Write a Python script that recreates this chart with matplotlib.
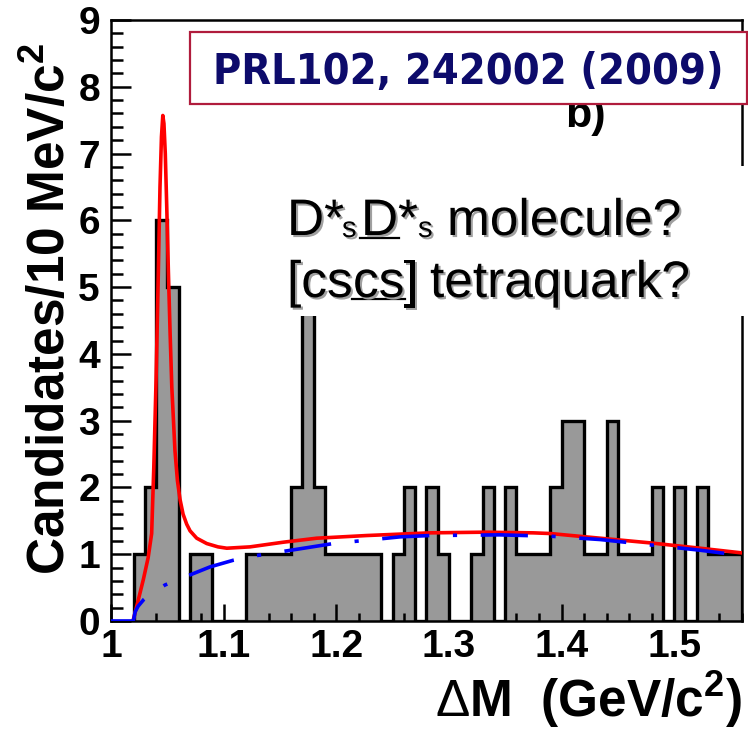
import matplotlib
matplotlib.use("Agg")
import matplotlib.pyplot as plt
from matplotlib.patches import Rectangle
from matplotlib.lines import Line2D
from matplotlib.ticker import MultipleLocator
import matplotlib.patheffects as pe
import numpy as np

plt.rcParams['lines.scale_dashes'] = False
plt.rcParams['font.family'] = ['Liberation Sans', 'DejaVu Sans']
plt.rcParams['mathtext.fontset'] = 'custom'
plt.rcParams['mathtext.rm'] = 'Liberation Sans'
plt.rcParams['mathtext.bf'] = 'Liberation Sans:bold'
plt.rcParams['mathtext.it'] = 'Liberation Sans:italic'

W, H = 748, 731

# ---------------- data ----------------
bin_edges = np.round(np.linspace(1.00, 1.56, 57), 2)
counts = [0, 0, 1, 2, 6, 5, 0, 1, 1, 0,
          0, 0, 1, 1, 1, 1, 2, 5, 2, 1,
          1, 1, 1, 1, 0, 1, 2, 0, 2, 1,
          0, 0, 1, 2, 0, 2, 1, 1, 1, 2,
          3, 3, 1, 1, 3, 1, 1, 1, 2, 0,
          2, 0, 2, 1, 1, 1]

fit_x = [1.0195, 1.0240, 1.0287, 1.0330, 1.0361, 1.0380, 1.0400, 1.0420, 1.0435,
         1.0448, 1.0460, 1.0470, 1.0482, 1.0495, 1.0510, 1.0525, 1.0540, 1.0568,
         1.0590, 1.0613, 1.0640, 1.0672, 1.0702, 1.0761, 1.0850, 1.0950, 1.1028,
         1.1234, 1.1530, 1.1827, 1.2271, 1.2833, 1.3307, 1.3750, 1.3899, 1.4343,
         1.4787, 1.5231, 1.5600]
fit_y = [0.00, 0.30, 0.62, 0.95, 1.31, 2.30, 3.60, 5.20, 6.50,
         7.25, 7.57, 7.45, 7.00, 6.20, 5.20, 4.30, 3.50, 2.55,
         2.10, 1.82, 1.60, 1.45, 1.35, 1.24, 1.16, 1.11, 1.09,
         1.11, 1.18, 1.24, 1.28, 1.32, 1.33, 1.32, 1.31, 1.24,
         1.17, 1.09, 1.02]

bkg_x = [1.0000, 1.0198, 1.0215, 1.0240, 1.0290, 1.0331, 1.0480, 1.0672, 1.0879,
         1.1086, 1.1294, 1.1560, 1.1974, 1.2271, 1.2567, 1.2833, 1.3450, 1.3899,
         1.4343, 1.4787, 1.5231, 1.5600]
bkg_y = [0.00, 0.00, 0.14, 0.22, 0.32, 0.38, 0.54, 0.67, 0.81,
         0.91, 0.98, 1.05, 1.16, 1.21, 1.26, 1.28, 1.29, 1.27,
         1.22, 1.14, 1.06, 0.98]

x_ticks = [1.0, 1.1, 1.2, 1.3, 1.4, 1.5]
x_tick_labels = ['1', '1.1', '1.2', '1.3', '1.4', '1.5']
y_ticks = [0, 1, 2, 3, 4, 5, 6, 7, 8, 9]
y_tick_labels = ['0', '1', '2', '3', '4', '5', '6', '7', '8', '9']

# ---------------- figure ----------------
fig = plt.figure(figsize=(W / 100, H / 100), dpi=100)
fig.patch.set_facecolor('white')
ax = fig.add_axes([111 / W, (H - 621) / H, (741.7 - 111) / W, (621 - 20) / H])

ax.stairs(counts, bin_edges, fill=True, color='#999999', linewidth=0, zorder=1)
ax.stairs(counts, bin_edges, color='black', linewidth=2.4, zorder=2)
ax.plot(fit_x, fit_y, color='#ff0000', lw=2.6, zorder=3,
        solid_joinstyle='round', solid_capstyle='round')
ax.plot(bkg_x, bkg_y, color='#0000ff', lw=2.6, zorder=4,
        linestyle=(0, (34, 17, 3, 17)))

ax.set_xlim(1.0, 1.56)
ax.set_ylim(0, 9)
ax.set_xticks(x_ticks, x_tick_labels)
ax.set_yticks(y_ticks, y_tick_labels)
ax.xaxis.set_minor_locator(MultipleLocator(0.02))
ax.yaxis.set_minor_locator(MultipleLocator(0.2))
ax.tick_params(axis='x', which='major', direction='in', length=12, width=1.8,
               labelsize=28, pad=6)
ax.tick_params(axis='x', which='minor', direction='in', length=6, width=1.8)
ax.tick_params(axis='y', which='major', direction='in', length=14.5, width=1.8,
               labelsize=28, pad=8)
ax.tick_params(axis='y', which='minor', direction='in', length=8.5, width=1.8)
for lab in ax.get_xticklabels() + ax.get_yticklabels():
    lab.set_fontweight('bold')
for s in ax.spines.values():
    s.set_linewidth(1.8)
    s.set_zorder(2.5)


def fx(px):
    return px / W


def fy(py):
    return 1 - py / H


# axis titles
fig.text(fx(65), fy(575), r'Candidates/10 MeV/c$^{\mathbf{2}}$', rotation=90,
         rotation_mode='anchor', ha='left', va='baseline', fontsize=37,
         fontweight='bold')
fig.text(fx(741.7), fy(717), r'$\mathrm{\Delta}$M  (GeV/c$^{\mathbf{2}}$)',
         ha='right', va='baseline', fontsize=37, fontweight='bold')

# "b)" label, partly hidden by the reference box
fig.text(fx(565), fy(127), 'b)', fontsize=31, fontweight='bold',
         ha='left', va='baseline', zorder=4)

# reference box
fig.add_artist(Rectangle((fx(190), fy(103.5)), (747 - 190) / W, (103.5 - 31.7) / H,
                         transform=fig.transFigure, facecolor='white',
                         edgecolor='#b01c3c', linewidth=1.6, zorder=6))
fig.text(fx(468), fy(83.5), 'PRL102, 242002 (2009)', fontsize=31,
         family='DejaVu Sans', fontweight='bold', fontstretch='condensed',
         color='#0d0b6b', ha='center', va='baseline', zorder=7)

# white area behind the annotation
fig.add_artist(Rectangle((fx(272), fy(316)), (748 - 272) / W, (316 - 166) / H,
                         transform=fig.transFigure, facecolor='white',
                         edgecolor='none', zorder=5))

renderer = fig.canvas.get_renderer()
shadow = [pe.withSimplePatchShadow(offset=(1.5, -1.5), shadow_rgbFace='#a0a0a0',
                                   alpha=1.0)]


def place_runs(base, runs):
    for x, s, size, dy, ul in runs:
        t = fig.text(fx(x), fy(base + dy), s, fontsize=size, ha='left',
                     va='baseline', path_effects=shadow, zorder=8)
        if ul:
            bb = t.get_window_extent(renderer)
            fig.add_artist(Line2D([fx(bb.x0 - 1), fx(bb.x1 + 1)], [fy(base + 2.5)] * 2,
                                  transform=fig.transFigure, color='black',
                                  lw=1.6, zorder=8))


big = 37
small = 21
place_runs(235, [(287, 'D*', big, 0, False), (342, 's', small, 2, False),
                 (361, 'D', big, 0, True), (398, '*', big, 0, False),
                 (418, 's', small, 2, False), (447, 'molecule?', big, 0, False)])
place_runs(297, [(287, '[cs', big, 0, False), (353, 'cs', big, 0, True),
                 (404, ']', big, 0, False), (430, 'tetraquark?', big, 0, False)])

fig.savefig('out.png', dpi=100, facecolor='white')
